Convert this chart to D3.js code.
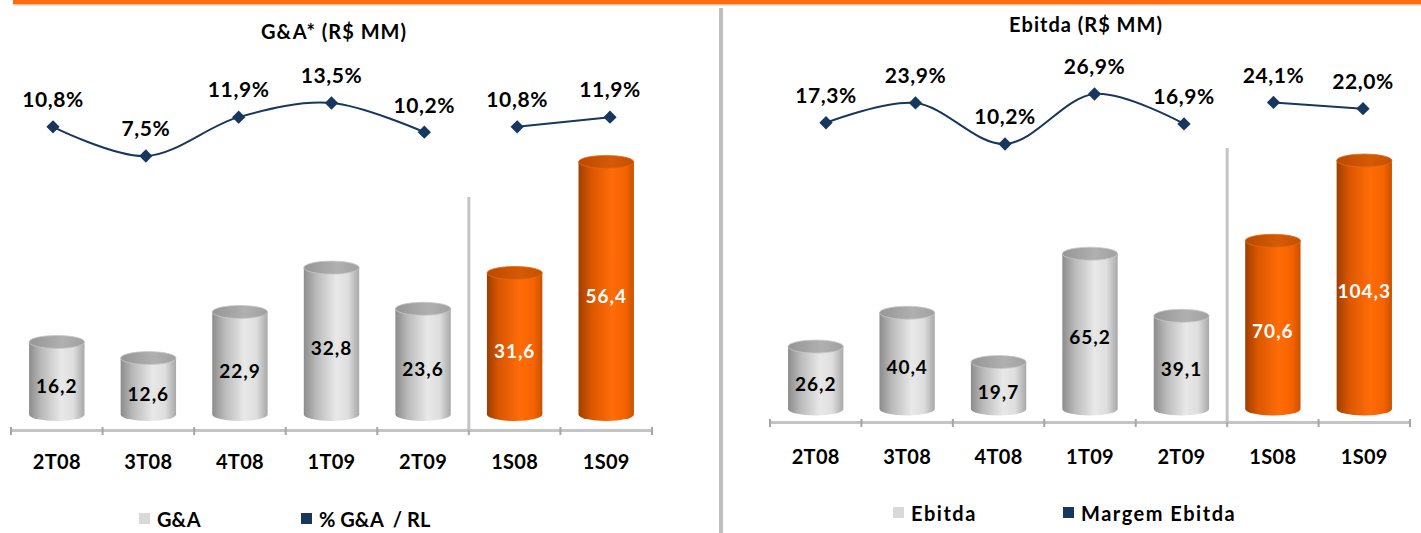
<!DOCTYPE html>
<html>
<head>
<meta charset="utf-8">
<script src="https://cdn.jsdelivr.net/npm/d3@7"></script>
<style>
  html, body { margin: 0; padding: 0; background: #ffffff; }
  svg { display: block; }
  text { font-family: Lato, "Open Sans", "DejaVu Sans", sans-serif; font-weight: 700; fill: #000; }
</style>
</head>
<body>
<script>
// ---------------- DATA ----------------
const categories = ["2T08", "3T08", "4T08", "1T09", "2T09", "1S08", "1S09"];
const highlightCats = ["1S08", "1S09"];
const lineGroups = [["2T08", "3T08", "4T08", "1T09", "2T09"], ["1S08", "1S09"]];

const gaValues = [16.2, 12.6, 22.9, 32.8, 23.6, 31.6, 56.4];
const gaPct = [10.8, 7.5, 11.9, 13.5, 10.2, 10.8, 11.9];

const ebitdaValues = [26.2, 40.4, 19.7, 65.2, 39.1, 70.6, 104.3];
const ebitdaPct = [17.3, 23.9, 10.2, 26.9, 16.9, 24.1, 22.0];

const panelTitles = ["G&A* (R$ MM)", "Ebitda (R$ MM)"];
const barLegend = ["G&A", "Ebitda"];
const lineLegend = ["% G&A  / RL", "Margem Ebitda"];

// ---------------- SETUP ----------------
const W = 1421, H = 533;
const locale = d3.formatLocale({ decimal: ",", thousands: ".", grouping: [3], currency: ["R$", ""] });
const fmt1 = locale.format(".1f");

const svg = d3.select("body").append("svg").attr("width", W).attr("height", H);
const defs = svg.append("defs");

function hGrad(id, stops) {
  const g = defs.append("linearGradient").attr("id", id).attr("x1", "0%").attr("x2", "100%").attr("y1", "0%").attr("y2", "0%");
  stops.forEach(s => g.append("stop").attr("offset", s[0]).attr("stop-color", s[1]));
}
hGrad("grayBody", [["0%", "#8c8c8c"], ["22%", "#b9b9b9"], ["58%", "#e8e8e8"], ["80%", "#dedede"], ["100%", "#a8a8a8"]]);
hGrad("grayCap", [["0%", "#959595"], ["60%", "#b0b0b0"], ["100%", "#a0a0a0"]]);
hGrad("orangeBody", [["0%", "#9e3f00"], ["22%", "#d95600"], ["60%", "#ff6c08"], ["85%", "#f56300"], ["100%", "#c95100"]]);
hGrad("orangeCap", [["0%", "#b84a00"], ["60%", "#d65a06"], ["100%", "#c45000"]]);

// top orange rule
svg.append("rect").attr("x", 13).attr("y", 0).attr("width", W - 13).attr("height", 4).attr("fill", "#ff6a10");
svg.append("rect").attr("x", 13).attr("y", 4).attr("width", W - 13).attr("height", 1.5).attr("fill", "#ffc39a");

// panel divider
svg.append("rect").attr("x", 719).attr("y", 8).attr("width", 4).attr("height", H - 8).attr("fill", "#bfbfbf");

function drawPanel(o) {
  const g = svg.append("g");
  const x = d3.scaleBand().domain(categories).range([o.x0, o.x1]).padding(0);
  const step = x.step();
  const bw = step * 0.605;
  const y = d3.scaleLinear().domain([0, o.yMax]).range([o.base, o.top]);
  const xl = d3.scalePoint().domain(categories).range([o.lx0, o.lx1]);
  const yp = d3.scaleLinear().domain(o.pDomain).range(o.pRange);
  const ry = 6.5;

  // title
  g.append("text").attr("x", o.titleX).attr("y", o.titleY).attr("dy", "0.35em")
    .attr("text-anchor", "middle").style("font-size", "20px").style("letter-spacing", "1px")
    .text(o.title);

  // axis
  const ax = g.append("g").attr("transform", `translate(0,${o.axisY})`)
    .call(d3.axisBottom(x).tickSize(0).tickSizeOuter(0));
  ax.select(".domain").attr("stroke", "#c4c4c4").attr("stroke-width", 3);
  ax.selectAll(".tick text").attr("y", o.labelOff).attr("dy", "0.35em")
    .style("font-size", "20px").style("letter-spacing", "0.3px")
    .style("font-family", "Lato, 'Open Sans', sans-serif").style("font-weight", 700).attr("fill", "#000");
  // boundary ticks
  ax.selectAll(".btick").data(d3.range(categories.length + 1)).join("line")
    .attr("class", "btick")
    .attr("x1", i => o.x0 + i * step).attr("x2", i => o.x0 + i * step)
    .attr("y1", -3).attr("y2", 5).attr("stroke", "#a6a6a6").attr("stroke-width", 2);

  // separator
  const sepX = x(highlightCats[0]);
  g.append("line").attr("x1", sepX).attr("x2", sepX).attr("y1", o.sepTop).attr("y2", o.axisY)
    .attr("stroke", "#c4c4c4").attr("stroke-width", 3);

  // bars (cylinders)
  const bars = categories.map((c, i) => ({ c, v: o.values[i], hi: highlightCats.includes(c) }));
  const bg = g.append("g").selectAll("g").data(bars).join("g");
  bg.append("path")
    .attr("d", d => {
      const x0 = x(d.c) + (step - bw) / 2, x1 = x0 + bw;
      const yt = y(d.v), yb = y(0);
      return `M${x0},${yt} L${x0},${yb} A${bw / 2},${ry} 0 0 0 ${x1},${yb} L${x1},${yt} Z`;
    })
    .attr("fill", d => d.hi ? "url(#orangeBody)" : "url(#grayBody)");
  bg.append("ellipse")
    .attr("cx", d => x(d.c) + step / 2).attr("cy", d => y(d.v))
    .attr("rx", bw / 2).attr("ry", ry)
    .attr("fill", d => d.hi ? "url(#orangeCap)" : "url(#grayCap)")
    .attr("stroke", d => d.hi ? "#e8690f" : "#c8c8c8").attr("stroke-width", 0.8);
  bg.append("text")
    .attr("x", d => x(d.c) + step / 2)
    .attr("y", d => (y(d.v) + o.axisY) / 2)
    .attr("dy", "0.35em").attr("text-anchor", "middle")
    .style("font-size", "19px").style("letter-spacing", "1px")
    .style("fill", d => d.hi ? "#ffffff" : "#000000")
    .text(d => fmt1(d.v));

  // lines
  const pts = categories.map((c, i) => ({ c, v: o.pct[i] }));
  const line = d3.line().x(d => xl(d.c)).y(d => yp(d.v)).curve(d3.curveCatmullRom.alpha(0.5));
  lineGroups.forEach(grp => {
    g.append("path").datum(pts.filter(p => grp.includes(p.c)))
      .attr("d", line).attr("fill", "none").attr("stroke", "#17375e").attr("stroke-width", 2);
  });
  g.append("g").selectAll("path").data(pts).join("path")
    .attr("transform", d => `translate(${xl(d.c)},${yp(d.v)}) rotate(45)`)
    .attr("d", d3.symbol(d3.symbolSquare, 88))
    .attr("fill", "#17375e");
  g.append("g").selectAll("text").data(pts).join("text")
    .attr("x", d => xl(d.c)).attr("y", d => yp(d.v) - 27).attr("dy", "0.35em")
    .attr("text-anchor", "middle").style("font-size", "21px").style("letter-spacing", "0.6px")
    .text(d => fmt1(d.v) + "%");

  // legend
  const lg = g.append("g");
  lg.append("rect").attr("x", o.leg1X).attr("y", o.legY - 5.5).attr("width", 11).attr("height", 11).attr("fill", "#d9d9d9");
  lg.append("text").attr("x", o.leg1X + 18).attr("y", o.legY + 1).attr("dy", "0.35em")
    .style("font-size", "20px").style("letter-spacing", o.legSpacing).text(o.barLeg);
  lg.append("rect").attr("x", o.leg2X).attr("y", o.legY - 5.5).attr("width", 11).attr("height", 11).attr("fill", "#17375e");
  lg.append("text").attr("x", o.leg2X + 18).attr("y", o.legY + 1).attr("dy", "0.35em")
    .style("font-size", "20px").style("letter-spacing", o.legSpacing).style("white-space", "pre").text(o.lineLeg);
}

drawPanel({
  title: panelTitles[0], titleX: 334, titleY: 32,
  values: gaValues, pct: gaPct,
  x0: 11, x1: 652, axisY: 430, labelOff: 32,
  yMax: 60, base: 414.5, top: 414.5 - 4.478 * 60,
  lx0: 53, lx1: 610, pDomain: [7.5, 13.5], pRange: [156, 103],
  sepTop: 197,
  leg1X: 139, leg2X: 301, legY: 518.5, legSpacing: "0px",
  barLeg: barLegend[0], lineLeg: lineLegend[0]
});

drawPanel({
  title: panelTitles[1], titleX: 1086, titleY: 25,
  values: ebitdaValues, pct: ebitdaPct,
  x0: 770, x1: 1410, axisY: 422, labelOff: 35,
  yMax: 110, base: 409, top: 409 - 2.382 * 110,
  lx0: 826, lx1: 1363, pDomain: [10.2, 26.9], pRange: [144, 94],
  sepTop: 148,
  leg1X: 893, leg2X: 1063, legY: 512.5, legSpacing: "1.5px",
  barLeg: barLegend[1], lineLeg: lineLegend[1]
});
</script>
</body>
</html>
